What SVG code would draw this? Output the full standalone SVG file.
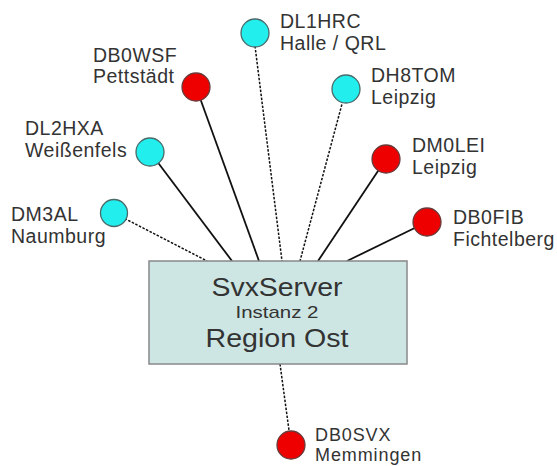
<svg xmlns="http://www.w3.org/2000/svg" width="557" height="466" viewBox="0 0 557 466">
<style>
.bg{fill:#ffffff}
.solid{stroke:#111;stroke-width:1.8;fill:none}
.dash{stroke:#111;stroke-width:1.5;fill:none;stroke-dasharray:2.5 1.5}
.cy{fill:#22eeee;stroke:#4a6a6a;stroke-width:1.3}
.rd{fill:#ee0000;stroke:#6a3a3a;stroke-width:1.3}
.lbl{font-family:"Liberation Sans",Arial,sans-serif;font-size:19.5px;letter-spacing:0.5px;fill:#333}
.sm{font-size:18px;letter-spacing:0.9px}
.box{fill:#cde6e4;stroke:#888;stroke-width:1.5}
.bt{font-family:"Liberation Sans",Arial,sans-serif;fill:#333;text-anchor:middle}
</style>
<rect class="bg" x="0" y="0" width="557" height="466"/>
<g id="connectors">
<line class="dash" x1="255" y1="46" x2="282" y2="261"/>
<line class="dash" x1="346" y1="89" x2="300" y2="261"/>
<line class="solid" x1="386" y1="159" x2="318" y2="261"/>
<line class="solid" x1="427" y1="222" x2="347" y2="261"/>
<line class="solid" x1="196" y1="87" x2="259" y2="261"/>
<line class="solid" x1="150" y1="152" x2="232" y2="261"/>
<line class="dash" x1="114" y1="213" x2="207" y2="261"/>
<line class="dash" x1="280" y1="364" x2="291" y2="445"/>
</g>
<g id="server">
<rect class="box" x="149" y="261" width="258" height="103"/>
<text class="bt" x="277" y="296" font-size="26" textLength="131" lengthAdjust="spacingAndGlyphs">SvxServer</text>
<text class="bt" x="277" y="318" font-size="17" textLength="83" lengthAdjust="spacingAndGlyphs">Instanz 2</text>
<text class="bt" x="277" y="347" font-size="26" textLength="143" lengthAdjust="spacingAndGlyphs">Region Ost</text>
</g>
<g id="DL1HRC"><circle class="cy" cx="255" cy="33" r="14"/><text class="lbl" x="280" y="28">DL1HRC</text><text class="lbl" x="280" y="50">Halle / QRL</text></g>
<g id="DB0WSF"><circle class="rd" cx="196" cy="87" r="14"/><text class="lbl" x="93" y="62">DB0WSF</text><text class="lbl" x="93" y="83">Pettstädt</text></g>
<g id="DH8TOM"><circle class="cy" cx="346" cy="89" r="14"/><text class="lbl" x="371" y="82">DH8TOM</text><text class="lbl" x="371" y="104">Leipzig</text></g>
<g id="DL2HXA"><circle class="cy" cx="150" cy="152" r="14"/><text class="lbl" x="25" y="135">DL2HXA</text><text class="lbl" x="25" y="157">Weißenfels</text></g>
<g id="DM0LEI"><circle class="rd" cx="386" cy="159" r="14"/><text class="lbl" x="412" y="152">DM0LEI</text><text class="lbl" x="412" y="174">Leipzig</text></g>
<g id="DM3AL"><circle class="cy" cx="114" cy="213" r="13.5"/><text class="lbl" x="11" y="221">DM3AL</text><text class="lbl" x="11" y="243">Naumburg</text></g>
<g id="DB0FIB"><circle class="rd" cx="427" cy="222" r="14"/><text class="lbl" x="453" y="224">DB0FIB</text><text class="lbl" x="453" y="246">Fichtelberg</text></g>
<g id="DB0SVX"><circle class="rd" cx="291" cy="445" r="14"/><text class="lbl sm" x="315" y="441">DB0SVX</text><text class="lbl sm" x="315" y="461">Memmingen</text></g>
</svg>
